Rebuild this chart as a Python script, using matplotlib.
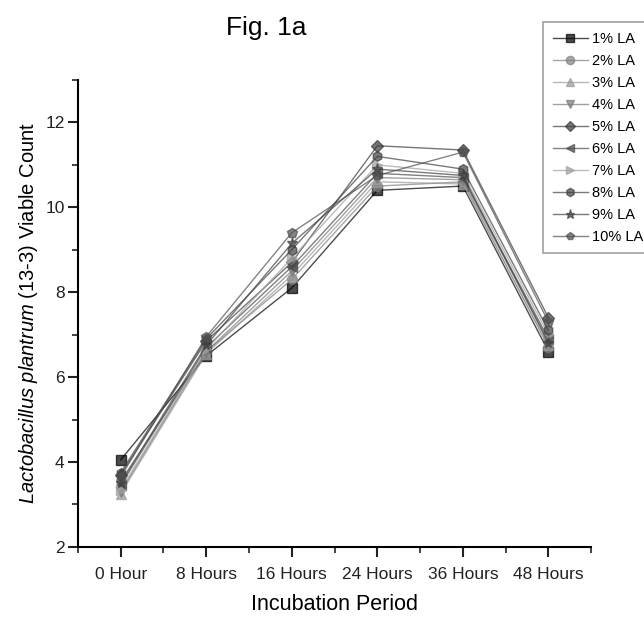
import matplotlib.pyplot as plt
from matplotlib.ticker import MultipleLocator

plt.rcParams['font.family'] = ['Liberation Sans', 'DejaVu Sans']
plt.rcParams['mathtext.fontset'] = 'custom'
plt.rcParams['mathtext.it'] = 'Liberation Sans:italic'
plt.rcParams['mathtext.rm'] = 'Liberation Sans'

periods = ['0 Hour', '8 Hours', '16 Hours', '24 Hours', '36 Hours', '48 Hours']
series_names = ['1% LA', '2% LA', '3% LA', '4% LA', '5% LA',
                '6% LA', '7% LA', '8% LA', '9% LA', '10% LA']

la1 = [4.05, 6.50, 8.10, 10.40, 10.50, 6.60]
la2 = [3.55, 6.60, 8.30, 10.50, 10.60, 6.70]
la3 = [3.25, 6.55, 8.40, 10.60, 10.55, 6.75]
la4 = [3.30, 6.60, 8.50, 10.70, 10.65, 6.85]
la5 = [3.70, 6.85, 8.70, 11.45, 11.35, 7.40]
la6 = [3.45, 6.70, 8.60, 10.80, 10.70, 6.90]
la7 = [3.35, 6.65, 8.80, 11.00, 10.80, 7.00]
la8 = [3.75, 6.90, 9.00, 11.20, 10.90, 7.10]
la9 = [3.50, 6.75, 9.15, 10.90, 10.75, 6.80]
la10 = [3.65, 6.95, 9.40, 10.75, 11.30, 7.30]

all_series = [la1, la2, la3, la4, la5, la6, la7, la8, la9, la10]

markers = ['s', 'o', '^', 'v', 'D', '<', '>', 'h', '*', 'p']
colors = ['#000000', '#808080', '#999999', '#7a7a7a', '#3c3c3c',
          '#4a4a4a', '#a0a0a0', '#404040', '#404040', '#505050']
msizes = [7, 7, 7, 7, 6, 7, 7, 7, 8, 7]

fig = plt.figure(figsize=(6.44, 6.2), dpi=100)
ax = fig.add_axes([0.121, 0.118, 0.797, 0.753])

x = list(range(len(periods)))
for vals, name, m, c, ms in zip(all_series, series_names, markers, colors, msizes):
    ax.plot(x, vals, color=c, lw=1.0, alpha=0.7, marker=m, ms=ms,
            mfc=c, mec=c, label=name)

ax.set_xlim(-0.5, 5.5)
ax.set_ylim(2, 13)
ax.set_xticks(x)
ax.set_xticklabels(periods)
ax.xaxis.set_minor_locator(MultipleLocator(0.5))
ax.yaxis.set_major_locator(MultipleLocator(2))
ax.yaxis.set_minor_locator(MultipleLocator(1))
ax.spines['top'].set_visible(False)
ax.spines['right'].set_visible(False)
ax.spines['left'].set_linewidth(1.5)
ax.spines['bottom'].set_linewidth(1.5)
ax.tick_params(which='major', direction='out', length=7, width=1.5, labelsize=12.5,
               colors='#222222')
ax.tick_params(axis='x', which='major', pad=7.5)
ax.tick_params(axis='y', which='major', pad=2.5)
ax.tick_params(which='minor', direction='out', length=4, width=1.2, colors='#222222')

ax.set_xlabel('Incubation Period', fontsize=15.5, labelpad=9)
ax.set_ylabel(r'$\it{Lactobacillus\ plantrum}$ (13-3) Viable Count', fontsize=14.5, labelpad=4)
fig.text(0.413, 0.955, 'Fig. 1a', fontsize=19, ha='center', va='center')

leg = fig.legend(loc='upper left', bbox_to_anchor=(0.832, 0.976), fontsize=10.5,
                 handlelength=2.4, labelspacing=0.55, borderpad=0.65, markerscale=0.85,
                 handletextpad=0.3, fancybox=False, frameon=True)
leg.get_frame().set_edgecolor('#888888')
leg.get_frame().set_linewidth(1.2)

fig.savefig('out.png', dpi=100)
